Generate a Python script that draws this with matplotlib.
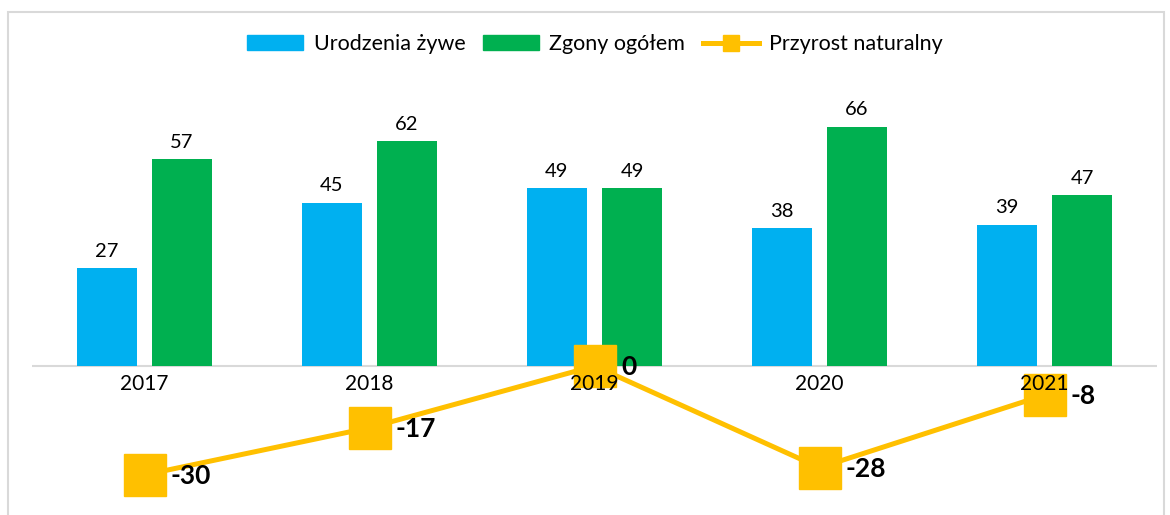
import matplotlib
matplotlib.use("Agg")
import matplotlib.pyplot as plt
from matplotlib.patches import Rectangle
from matplotlib.lines import Line2D
from matplotlib.patches import Patch
import numpy as np

plt.rcParams['font.family'] = ['Lato', 'DejaVu Sans']

years = ["2017", "2018", "2019", "2020", "2021"]
births = [27, 45, 49, 38, 39]
deaths = [57, 62, 49, 66, 47]
natural = [-30, -17, 0, -28, -8]

BLUE = "#00B0F0"
GREEN = "#00B050"
GOLD = "#FFC000"

W, H = 1170, 515
fig = plt.figure(figsize=(W / 100, H / 100), dpi=100)
ax = fig.add_axes([32 / W, 10 / H, 1125 / W, 430 / H])

x = np.arange(len(years))
bw = 0.27
off = 0.167
b1 = ax.bar(x - off, births, bw, color=BLUE, zorder=2)
b2 = ax.bar(x + off, deaths, bw, color=GREEN, zorder=2)

for rect, v in zip(list(b1) + list(b2), births + deaths):
    ax.annotate(str(v), (rect.get_x() + rect.get_width() / 2, v),
                xytext=(0, 6), textcoords="offset points",
                ha="center", va="bottom", fontsize=14.5, color="#000000")

ax.plot(x, natural, color=GOLD, lw=3.6, marker="s", ms=30,
        mfc=GOLD, mec=GOLD, zorder=4, clip_on=False)
for xi, v in zip(x, natural):
    ax.annotate(str(v), (xi, v), xytext=(19, -1), textcoords="offset points",
                ha="left", va="center", fontsize=19, fontweight="bold",
                color="#000000", zorder=5)

ax.set_xlim(-0.5, 4.5)
ax.set_ylim(-38.3, 80.2)
ax.axhline(0, color="#D9D9D9", lw=1.5, zorder=1)
for s in ax.spines.values():
    s.set_visible(False)
ax.set_yticks([])
ax.set_xticks([])
for xi, lab in zip(x, years):
    ax.text(xi, -2.3, lab, ha="center", va="top", fontsize=15, color="#000000", zorder=6)

handles = [Patch(color=BLUE), Patch(color=GREEN),
           Line2D([0], [0], color=GOLD, lw=3.6, marker="s", ms=12, mfc=GOLD, mec=GOLD)]
labels = ["Urodzenia żywe", "Zgony ogółem", "Przyrost naturalny"]
fig.legend(handles, labels, loc="center", bbox_to_anchor=(595 / W, 1 - 44 / H),
           ncol=3, frameon=False, fontsize=15.5, handlelength=2.6, handleheight=0.65,
           columnspacing=0.8, handletextpad=0.5)

fig.patches.append(Rectangle((8 / W, -0.02), (1164 - 8) / W, 1.02 - 12 / H - 0.0,
                             transform=fig.transFigure, fill=False,
                             edgecolor="#D9D9D9", lw=1.5, zorder=0))

fig.savefig("out.png", dpi=100, facecolor="white")
